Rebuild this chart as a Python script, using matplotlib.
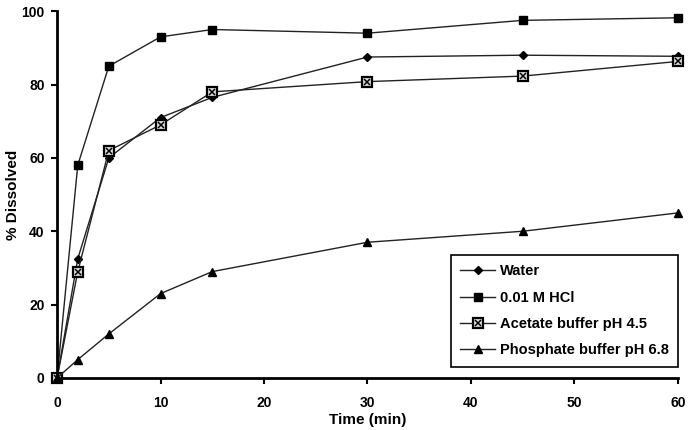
import matplotlib
matplotlib.use('Agg')
import matplotlib.pyplot as plt

plt.rcParams['font.family'] = ['Liberation Sans', 'DejaVu Sans']
plt.rcParams['font.weight'] = 'bold'

# time points (min)
t = [0, 2, 5, 10, 15, 30, 45, 60]
# % dissolved for each medium
water = [0, 32.5, 60, 71, 76.5, 87.5, 88, 87.7]
hcl = [0, 58, 85, 93, 95, 94, 97.5, 98.2]
acetate = [0, 29, 62, 69, 78, 80.8, 82.3, 86.3]
phosphate = [0, 5, 12, 23, 29, 37, 40, 45]

xticks = [0, 10, 20, 30, 40, 50, 60]
yticks = [0, 20, 40, 60, 80, 100]

fig = plt.figure(figsize=(6.96, 4.30), dpi=100)
ax = fig.add_axes([0.082, 0.121, 0.892, 0.853])

lc = '#222222'
h1, = ax.plot(t, water, color=lc, lw=1, marker='D', ms=4, mfc='black', mec='black', clip_on=False)
h2, = ax.plot(t, hcl, color=lc, lw=1, marker='s', ms=5.5, mfc='black', mec='black', clip_on=False)
h3a, = ax.plot(t, acetate, color=lc, lw=1, marker='s', ms=7, mfc='#dddddd', mec='black', mew=1.6, clip_on=False)
h3b, = ax.plot(t, acetate, ls='none', marker='x', ms=5, mec='black', mew=1.1, clip_on=False)
h4, = ax.plot(t, phosphate, color=lc, lw=1, marker='^', ms=5.5, mfc='black', mec='black', clip_on=False)

ax.set_xlim(0, 60)
ax.set_ylim(0, 100)
ax.set_xticks(xticks)
ax.set_yticks(yticks)
for s in ['top', 'right']:
    ax.spines[s].set_visible(False)
for s in ['left', 'bottom']:
    ax.spines[s].set_linewidth(2)
ax.tick_params(direction='out', length=4, width=1.5, labelsize=10)
ax.tick_params(axis='x', pad=9)
ax.tick_params(axis='y', pad=5)
ax.set_xlabel('Time (min)', fontsize=11, fontweight='bold', labelpad=2)
ax.set_ylabel('% Dissolved', fontsize=11, fontweight='bold', labelpad=1)

leg = ax.legend([h1, h2, (h3a, h3b), h4],
                ['Water', '0.01 M HCl', 'Acetate buffer pH 4.5', 'Phosphate buffer pH 6.8'],
                loc='lower right', bbox_to_anchor=(1.0, 0.03), borderaxespad=0,
                fancybox=False, edgecolor='black', framealpha=1, fontsize=10.5,
                handlelength=2.4, handletextpad=0.3, labelspacing=0.85, borderpad=0.65)
leg.get_frame().set_linewidth(1.2)

fig.savefig('out.png', dpi=100)
